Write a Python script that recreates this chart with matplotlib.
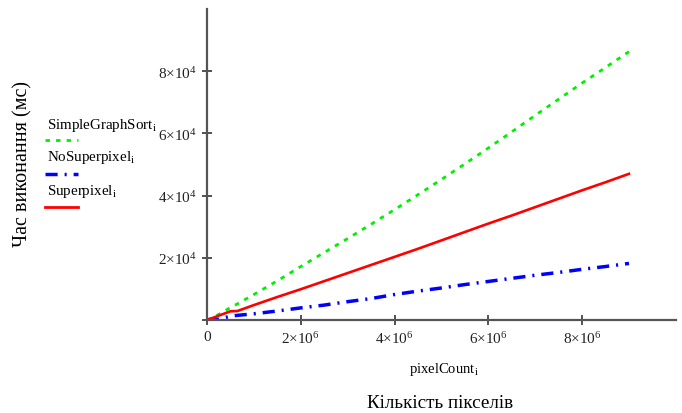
import matplotlib
matplotlib.use("Agg")
import matplotlib.pyplot as plt
from matplotlib.lines import Line2D

plt.rcParams["font.family"] = ["Liberation Serif", "DejaVu Serif"]
plt.rcParams["mathtext.fontset"] = "custom"
plt.rcParams["mathtext.rm"] = "Liberation Serif"
plt.rcParams["mathtext.it"] = "Liberation Serif:italic"

# Дані
pixel_count = [0, 0.25e6, 0.5e6, 0.65e6, 1e6, 1.5e6, 2e6, 2.5e6, 3e6, 3.5e6, 4e6,
               4.5e6, 5e6, 5.5e6, 6e6, 6.5e6, 7e6, 7.5e6, 8e6, 8.5e6, 9e6]
simple_graph_sort = [0, 1800, 4000, 5200, 8200, 12600, 17200, 21700, 26200, 30800, 35500,
                     40300, 45200, 50200, 55300, 60500, 65800, 71000, 76200, 81200, 86300]
no_superpixel = [0, 300, 1200, 1500, 2000, 2900, 3900, 4800, 5900, 6900, 8200,
                 9300, 10300, 11400, 12400, 13400, 14400, 15300, 16300, 17200, 18200]
superpixel = [0, 1400, 2800, 2900, 4800, 7400, 9900, 12500, 15100, 17700, 20300,
              22900, 25600, 28300, 31000, 33600, 36300, 39000, 41700, 44300, 47000]

x_ticks = [0, 2e6, 4e6, 6e6, 8e6]
x_tick_labels = ["0", r"$2{\times}10^{6}$", r"$4{\times}10^{6}$", r"$6{\times}10^{6}$", r"$8{\times}10^{6}$"]
y_ticks = [0, 2e4, 4e4, 6e4, 8e4]
y_tick_labels = ["", r"$2{\times}10^{4}$", r"$4{\times}10^{4}$", r"$6{\times}10^{4}$", r"$8{\times}10^{4}$"]

GREEN = "#00f000"
BLUE = "#0000ff"
RED = "#ff0000"

fig = plt.figure(figsize=(6.82, 4.14), dpi=100)
ax = fig.add_axes([0.3035, 0.2246, 0.6875, 0.7512])

ax.plot(pixel_count, simple_graph_sort, color=GREEN, lw=2, linestyle=(0, (1.6, 2.2)))
ax.plot(pixel_count, no_superpixel, color=BLUE, lw=2.5, linestyle=(0, (3.5, 2, 0.6, 2)))
ax.plot(pixel_count, superpixel, color=RED, lw=1.9)

ax.set_xlim(0, 1e7)
ax.set_ylim(0, 1e5)
ax.set_xticks(x_ticks)
ax.set_xticklabels(x_tick_labels, fontsize=11, color="#222222")
ax.set_yticks(y_ticks)
ax.set_yticklabels(y_tick_labels, fontsize=11, color="#222222")
ax.tick_params(direction="inout", length=7, width=1.2, color="#333333", pad=4)

for s in ["top", "right"]:
    ax.spines[s].set_visible(False)
for s in ["left", "bottom"]:
    ax.spines[s].set_color("#555555")
    ax.spines[s].set_linewidth(1.6)

# підписи осей
fig.text(444 / 682, 1 - 370 / 414, r"pixelCount$_{\mathrm{i}}$", ha="center", va="center", fontsize=10.5)
fig.text(440 / 682, 1 - 404 / 414, "Кількість пікселів", ha="center", va="center", fontsize=13.8)
fig.text(23 / 682, 1 - 164 / 414, "Час виконання (мс)", ha="center", va="center",
         rotation=90, fontsize=14.5)

# легенда
legend_items = [("SimpleGraphSort", GREEN, (0, (1.6, 2.2)), 2, 125, 141),
                ("NoSuperpixel", BLUE, (0, (3.5, 2, 0.6, 2)), 2.5, 157, 175),
                ("Superpixel", RED, "-", 2, 191, 208)]
for name, col, ls, lw, ty, ly in legend_items:
    fig.text(47 / 682, 1 - ty / 414, name + r"$_{\mathrm{i}}$", ha="left", va="center", fontsize=10.8)
    fig.add_artist(Line2D([45 / 682, 78 / 682], [1 - ly / 414, 1 - ly / 414],
                          transform=fig.transFigure, color=col, linestyle=ls, lw=lw))

fig.savefig("out.png", dpi=100)
